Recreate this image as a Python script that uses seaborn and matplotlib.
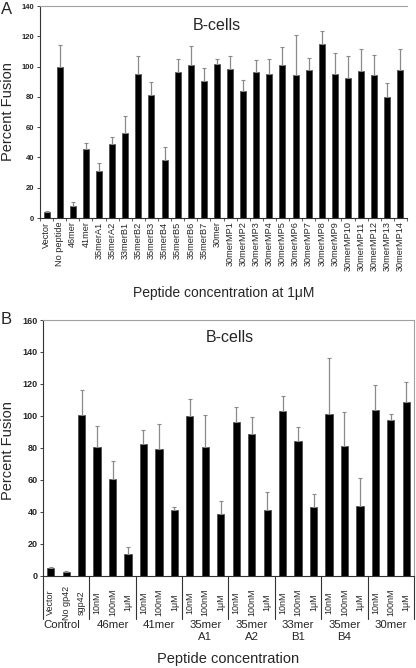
import matplotlib
matplotlib.use("Agg")
import numpy as np
import pandas as pd
import matplotlib.pyplot as plt
import matplotlib.transforms as mtransforms
import seaborn as sns

# panel A data (peptides at 1uM)
a_labels = ["Vector", "No peptide", "46mer", "41mer", "35merA1", "35merA2", "33merB1",
            "35merB2", "35merB3", "35merB4", "35merB5", "35merB6", "35merB7", "30mer",
            "30merMP1", "30merMP2", "30merMP3", "30merMP4", "30merMP5", "30merMP6",
            "30merMP7", "30merMP8", "30merMP9", "30merMP10", "30merMP11", "30merMP12",
            "30merMP13", "30merMP14"]
a_vals = [4, 99.7, 8, 45.8, 31, 49.1, 55.9, 94.9, 81, 38.6, 96.2, 100.9, 90.3, 101.5,
          98.7, 83.9, 96.2, 95.4, 101.3, 94.3, 98, 114.7, 94.9, 92.7, 96.9, 94.5, 79.9, 97.8]
a_tops = [4.6, 114, 10.5, 49.8, 36.6, 53.8, 67.4, 106.8, 90, 46.9, 105.3, 113.4, 99.3, 105.3,
          106.8, 91, 104.4, 105.3, 113.2, 121.1, 105.9, 123.8, 108.8, 107.2, 111.9, 107.9, 89.2, 111.9]

# panel B data (concentration series)
b_labels = ["Vector", "No gp42", "sgp42"] + ["10nM", "100nM", "1\u03bcM"] * 7
b_groups = ["Control", "46mer", "41mer", "35mer\nA1", "35mer\nA2", "33mer\nB1", "35mer\nB4", "30mer"]
b_vals = [4.5, 2.5, 100.3,
          80.3, 60.2, 13.5,
          82.5, 79, 40.8,
          99.9, 80.5, 38.3,
          95.9, 88.8, 41,
          102.8, 84.4, 43.1,
          101.3, 80.9, 43.7,
          103.8, 97.4, 108.6]
b_tops = [5.5, 3, 116,
          93.4, 71.5, 18,
          90.9, 94.7, 42.7,
          110.3, 100.3, 46.6,
          105.7, 99.4, 52.5,
          112.6, 93.2, 51,
          136.2, 102.4, 60.9,
          119.3, 101.1, 121]

sns.set_style("white")
plt.rcParams['font.family'] = ['Liberation Sans', 'DejaVu Sans']

fig = plt.figure(figsize=(4.16, 6.68), dpi=100)
axA = fig.add_axes([40/416, 1-218/668, 367/416, 212/668])
axB = fig.add_axes([43/416, 1-575.5/668, 371/416, 255.5/668])


def draw_bars(ax, labels, vals, tops, width):
    df = pd.DataFrame({"x": [str(i) for i in range(len(labels))], "y": vals})
    sns.barplot(data=df, x="x", y="y", color="black", width=width, ax=ax,
                edgecolor="#444444", linewidth=0.5, saturation=1)
    x = np.arange(len(vals))
    err = np.array(tops) - np.array(vals)
    ax.errorbar(x, vals, yerr=[np.zeros(len(vals)), err], fmt="none",
                ecolor="#8a8a8a", elinewidth=0.9, capsize=1.2, capthick=0.8, zorder=1)
    ax.set_xlim(-0.5, len(vals) - 0.5)
    ax.set_xlabel("")
    ax.set_ylabel("")


# ---- panel A ----
draw_bars(axA, a_labels, a_vals, a_tops, 0.46)
axA.set_ylim(0, 140)
axA.set_yticks(range(0, 141, 20))
axA.set_xticks(range(len(a_labels)))
axA.set_xticklabels(a_labels, rotation=90, fontsize=6.6, va="top", ha="center")
axA.set_xticks(np.arange(-0.5, len(a_labels), 1), minor=True)
axA.tick_params(axis="x", which="major", length=0, pad=2.5)
axA.tick_params(axis="x", which="minor", length=2, width=0.6, color="#444444", direction="out", bottom=True)
axA.tick_params(axis="y", length=2, width=0.6, direction="out", left=True, labelsize=5.5, pad=2)
for t in axA.get_yticklabels():
    t.set_fontweight("bold")
axA.spines["right"].set_visible(False)
axA.spines["top"].set_color("#a0a0a0")
axA.spines["left"].set_color("#333333")
axA.spines["bottom"].set_color("#333333")
for s in axA.spines.values():
    s.set_linewidth(0.8)
axA.text(0.482, 0.91, "B-cells", transform=axA.transAxes, ha="center", va="center", fontsize=11.5)
axA.text(-0.087, 0.5, "Percent Fusion", transform=axA.transAxes, ha="center", va="center",
         rotation=90, fontsize=10.5)
axA.text(0.5, -75/212, "Peptide concentration at 1\u03bcM", transform=axA.transAxes,
         ha="center", va="center", fontsize=10)
fig.text(7/416, 1-9/668, "A", ha="center", va="center", fontsize=12)

# ---- panel B ----
draw_bars(axB, b_labels, b_vals, b_tops, 0.47)
axB.set_ylim(0, 160)
axB.set_yticks(range(0, 161, 20))
axB.set_xticks(range(len(b_labels)))
axB.set_xticklabels(b_labels, rotation=90, fontsize=6.5, va="center", ha="center")
axB.tick_params(axis="x", which="major", length=0, pad=19.5)
axB.tick_params(axis="y", length=2, width=0.6, direction="out", left=True, labelsize=6.5, pad=2)
for t in axB.get_yticklabels():
    t.set_fontweight("bold")
axB.spines["top"].set_color("#a0a0a0")
axB.spines["right"].set_color("#a0a0a0")
axB.spines["left"].set_color("#333333")
axB.spines["bottom"].set_color("#333333")
for s in axB.spines.values():
    s.set_linewidth(0.8)

trans = mtransforms.blended_transform_factory(axB.transData, axB.transAxes)
bounds = [-0.5] + [2.5 + 3 * k for k in range(8)]
for bx in bounds:
    axB.plot([bx, bx], [0, -43/255.5], transform=trans, color="#333333", lw=0.8, clip_on=False)
for g, name in enumerate(b_groups):
    cx = 1 + 3 * g
    if g == 0:
        cx = 0.7
    axB.text(cx, -45/255.5, name, transform=trans, ha="center", va="top",
             fontsize=8.2, linespacing=1.15)

axB.text(0.504, 0.933, "B-cells", transform=axB.transAxes, ha="center", va="center", fontsize=11.5)
axB.text(-0.094, 0.49, "Percent Fusion", transform=axB.transAxes, ha="center", va="center",
         rotation=90, fontsize=10.5)
axB.text(0.5, -83/255.5, "Peptide concentration", transform=axB.transAxes,
         ha="center", va="center", fontsize=10.5)
fig.text(6/416, 1-320/668, "B", ha="center", va="center", fontsize=12)

fig.savefig("out.png", dpi=100)
